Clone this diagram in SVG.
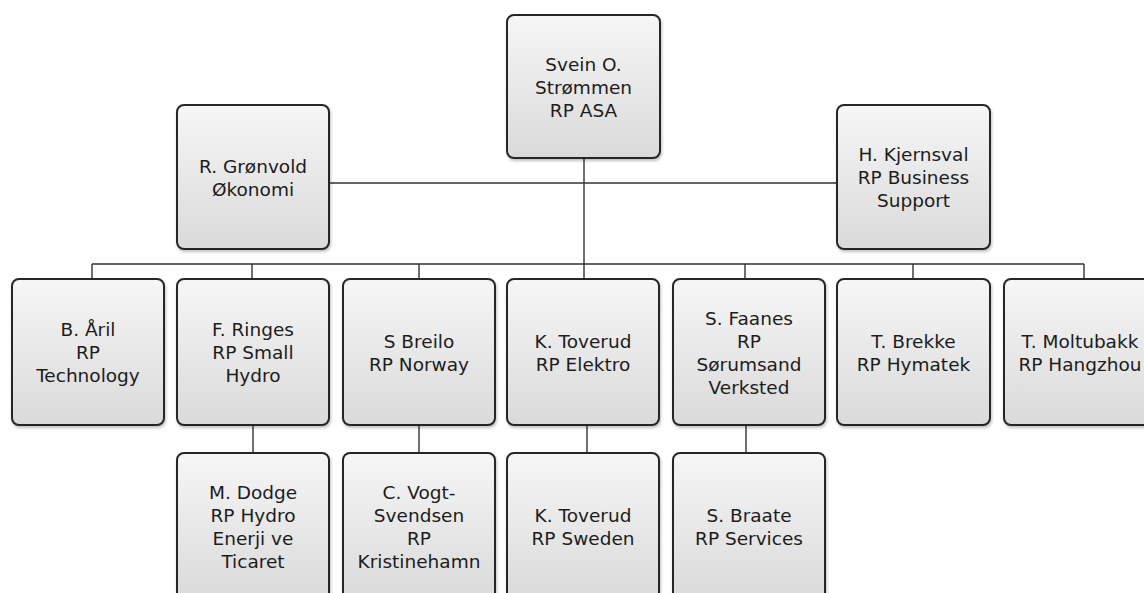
<svg xmlns="http://www.w3.org/2000/svg" width="1144" height="593" viewBox="0 0 1144 593">
<defs>
<linearGradient id="g" x1="0" y1="0" x2="0" y2="1">
<stop offset="0" stop-color="#f6f6f6"/>
<stop offset="1" stop-color="#dadada"/>
</linearGradient>
<filter id="sh" x="-10%" y="-10%" width="120%" height="120%">
<feGaussianBlur in="SourceAlpha" stdDeviation="1.5"/>
<feOffset dx="1" dy="2" result="b"/>
<feComponentTransfer><feFuncA type="linear" slope="0.25"/></feComponentTransfer>
<feMerge><feMergeNode/><feMergeNode in="SourceGraphic"/></feMerge>
</filter>
</defs>
<style>
.box{fill:url(#g);stroke:#262626;stroke-width:2;filter:url(#sh)}
.t{font-family:"DejaVu Sans",Verdana,sans-serif;font-size:18.5px;fill:#1c1c1c;text-anchor:middle}
.c{stroke:#333;stroke-width:1.4;fill:none}
</style>
<rect width="1144" height="593" fill="#ffffff"/>
<g id="connectors">
<path class="c" d="M584 158V279M329 183H837M92 264H1084M92 264V279M252 264V279M419 264V279M745 264V279M913 264V279M1084 264V279M253 425V453M419 425V453M587 425V453M746 425V453"/>
</g>
<g id="n-strommen"><rect class="box" x="507" y="15" width="153" height="143" rx="7"/>
<text class="t"><tspan x="583.5" y="70.5">Svein O.</tspan><tspan x="583.5" y="93.5">Strømmen</tspan><tspan x="583.5" y="116.5">RP ASA</tspan></text></g>
<g id="n-gronvold"><rect class="box" x="177" y="105" width="152" height="144" rx="7"/>
<text class="t"><tspan x="253" y="172.5">R. Grønvold</tspan><tspan x="253" y="195.5">Økonomi</tspan></text></g>
<g id="n-kjernsval"><rect class="box" x="837" y="105" width="153" height="144" rx="7"/>
<text class="t"><tspan x="913.5" y="161">H. Kjernsval</tspan><tspan x="913.5" y="184">RP Business</tspan><tspan x="913.5" y="207">Support</tspan></text></g>
<g id="n-aril"><rect class="box" x="12" y="279" width="152" height="146" rx="7"/>
<text class="t"><tspan x="88" y="336">B. Åril</tspan><tspan x="88" y="359">RP</tspan><tspan x="88" y="382">Technology</tspan></text></g>
<g id="n-ringes"><rect class="box" x="177" y="279" width="152" height="146" rx="7"/>
<text class="t"><tspan x="253" y="336">F. Ringes</tspan><tspan x="253" y="359">RP Small</tspan><tspan x="253" y="382">Hydro</tspan></text></g>
<g id="n-breilo"><rect class="box" x="343" y="279" width="152" height="146" rx="7"/>
<text class="t"><tspan x="419" y="347.5">S Breilo</tspan><tspan x="419" y="370.5">RP Norway</tspan></text></g>
<g id="n-toverud"><rect class="box" x="507" y="279" width="152" height="146" rx="7"/>
<text class="t"><tspan x="583" y="347.5">K. Toverud</tspan><tspan x="583" y="370.5">RP Elektro</tspan></text></g>
<g id="n-faanes"><rect class="box" x="673" y="279" width="152" height="146" rx="7"/>
<text class="t"><tspan x="749" y="324.5">S. Faanes</tspan><tspan x="749" y="347.5">RP</tspan><tspan x="749" y="370.5">Sørumsand</tspan><tspan x="749" y="393.5">Verksted</tspan></text></g>
<g id="n-brekke"><rect class="box" x="837" y="279" width="153" height="146" rx="7"/>
<text class="t"><tspan x="913.5" y="347.5">T. Brekke</tspan><tspan x="913.5" y="370.5">RP Hymatek</tspan></text></g>
<g id="n-moltubakk"><rect class="box" x="1004" y="279" width="153" height="146" rx="7"/>
<text class="t"><tspan x="1080" y="347.5">T. Moltubakk</tspan><tspan x="1080" y="370.5">RP Hangzhou</tspan></text></g>
<g id="n-dodge"><rect class="box" x="177" y="453" width="152" height="147" rx="7"/>
<text class="t"><tspan x="253" y="499">M. Dodge</tspan><tspan x="253" y="522">RP Hydro</tspan><tspan x="253" y="545">Enerji ve</tspan><tspan x="253" y="568">Ticaret</tspan></text></g>
<g id="n-vogt"><rect class="box" x="343" y="453" width="152" height="147" rx="7"/>
<text class="t"><tspan x="419" y="499">C. Vogt-</tspan><tspan x="419" y="522">Svendsen</tspan><tspan x="419" y="545">RP</tspan><tspan x="419" y="568">Kristinehamn</tspan></text></g>
<g id="n-toverud2"><rect class="box" x="507" y="453" width="152" height="147" rx="7"/>
<text class="t"><tspan x="583" y="522">K. Toverud</tspan><tspan x="583" y="545">RP Sweden</tspan></text></g>
<g id="n-braate"><rect class="box" x="673" y="453" width="152" height="147" rx="7"/>
<text class="t"><tspan x="749" y="522">S. Braate</tspan><tspan x="749" y="545">RP Services</tspan></text></g>
</svg>
